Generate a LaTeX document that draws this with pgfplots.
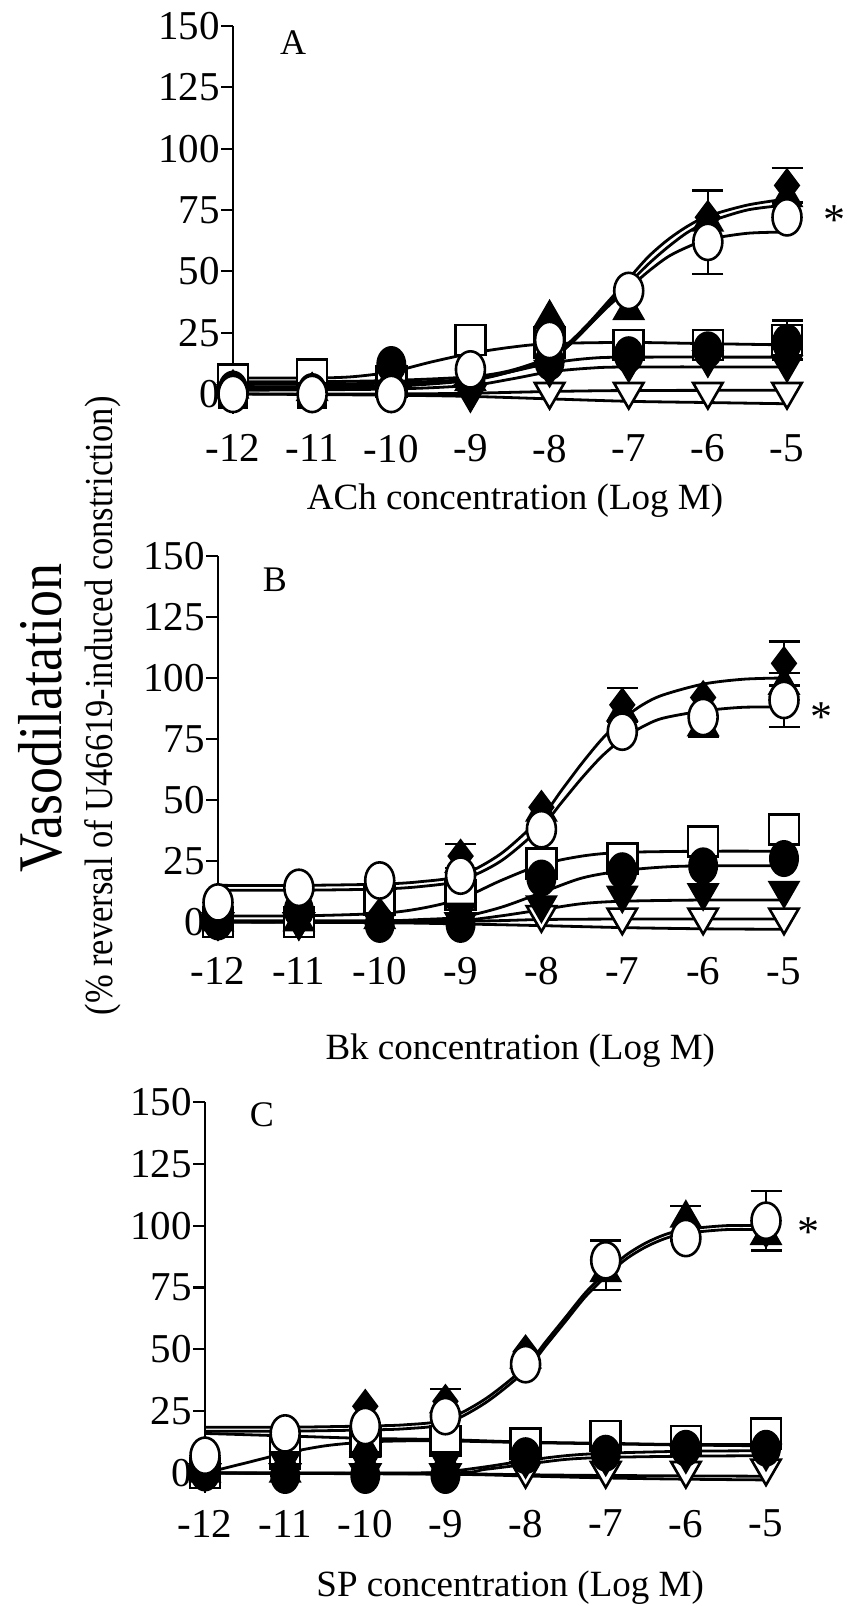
\documentclass[border=0pt]{standalone}
\usepackage{fontspec}
\setmainfont{Liberation Serif}
\usepackage{pgfplots}
\pgfplotsset{compat=1.18}

\pgfplotsset{
  panel/.style={
    scale only axis, clip=false, axis on top,
    xmin=-12, xmax=-5, ymin=-8, ymax=150,
    axis x line=bottom, axis y line=left,
    axis line style={-, line width=2.6pt},
    x axis line style={draw=none},
    xtick={-12,-11,-10,-9,-8,-7,-6,-5},
    xticklabels={-12,-11,-10,-9,-8,-7,-6,-5},
    ytick={0,25,50,75,100,125,150},
    yticklabels={0,25,50,75,100,125,150},
    xtick style={draw=none},
    ytick style={line width=2.2pt, black},
    tick align=outside,
    major tick length=12pt,
    tick label style={font=\fontsize{41}{41}\selectfont},
    yticklabel style={inner sep=1pt},
    xticklabel style={inner sep=0pt, anchor=north},
    xlabel style={font=\fontsize{37}{37}\selectfont, anchor=base},
  },
  fit/.style={no marks, smooth, line width=2.8pt, black},
  eb/.style={only marks, mark=none, error bars/.cd, y dir=both, y explicit,
    error bar style={draw=black, line width=2.4pt},
    error mark options={rotate=90, mark size=15.5pt, line width=2.4pt, draw=black}},
  mD/.style={only marks, mark=diamond*, mark size=16pt, mark options={draw=black, fill=black, line width=2pt}},
  mT/.style={only marks, mark=triangle*, mark size=17pt, mark options={draw=black, fill=black, line width=2pt}},
  mO/.style={only marks, mark=*, mark size=14.5pt, mark options={draw=black, fill=white, line width=2.6pt, yscale=1.25}},
  mS/.style={only marks, mark=square*, mark size=15pt, mark options={draw=black, fill=white, line width=2.6pt}},
  mC/.style={only marks, mark=*, mark size=14pt, mark options={draw=black, fill=black, line width=2pt, yscale=1.25}},
  mV/.style={only marks, mark=triangle*, mark size=17pt, mark options={draw=black, fill=black, line width=2pt, rotate=180}},
  mW/.style={only marks, mark=triangle*, mark size=17pt, mark options={draw=black, fill=white, line width=2.6pt, rotate=180}},
  mQ/.style={only marks, mark=square*, mark size=14pt, mark options={draw=black, fill=black, line width=2pt}},
}

\begin{document}
\begin{tikzpicture}
\useasboundingbox (0pt,0pt) rectangle (852pt,1606pt);

% ---------------- Panel A ----------------
\begin{axis}[panel, at={(233pt,1192.4pt)}, anchor=south west,
  width=554pt, height=387.6pt,
  xticklabel style={yshift=-9pt},
  xlabel={ACh concentration (Log M)},
  xlabel style={at={(axis description cs:0.509,0)}, yshift=-96pt}]
\addplot[fit] coordinates {(-12,5) (-11,5) (-10,5.5) (-9,7) (-8.5,9.5) (-8,15) (-7.75,21) (-7.5,29) (-7.25,38) (-7,47) (-6.75,56) (-6.5,63) (-6.25,68.5) (-6,72.5) (-5.5,77) (-5,79.5)};
\addplot[fit] coordinates {(-12,4) (-11,4) (-10,4.5) (-9,6) (-8.5,9) (-8,14) (-7.75,20) (-7.5,28) (-7.25,37) (-7,45) (-6.75,53) (-6.5,60) (-6.25,66) (-6,70) (-5.5,75) (-5,77)};
\addplot[fit] coordinates {(-12,2) (-11,2) (-10,3) (-9,5.5) (-8.5,9) (-8,14) (-7.75,20) (-7.5,28) (-7.25,36) (-7,43) (-6.75,50) (-6.5,56) (-6.25,60) (-6,63) (-5.5,65.5) (-5,66)};
\addplot[fit] coordinates {(-12,6.5) (-11,6.5) (-10.5,7) (-10,9) (-9.5,13) (-9,16.5) (-8.5,19) (-8,20.5) (-7,21) (-6,20.5) (-5,20)};
\addplot[fit] coordinates {(-12,3) (-11,3) (-10,3.5) (-9.5,4.5) (-9,6) (-8.5,9) (-8,12.5) (-7.5,14.5) (-7,15) (-5,15)};
\addplot[fit] coordinates {(-12,1.5) (-10,2) (-9,3.5) (-8.5,6) (-8,9) (-7.5,10.5) (-7,11) (-5,11)};
\addplot[fit] coordinates {(-12,0) (-10,0) (-9,0.3) (-8,1) (-7,1.4) (-5,1.5)};
\addplot[fit] coordinates {(-12,0) (-10,-0.5) (-9,-1) (-8,-2) (-7,-3) (-6,-3.5) (-5,-4)};
% error bars
\addplot[eb] coordinates {(-5,85) +- (0,7)};
\addplot[eb] coordinates {(-6,62) += (0,21) -= (0,13)};
\addplot[eb] coordinates {(-5,22) +- (0,8)};
% data
\addplot[mQ] coordinates {(-12,0) (-11,0)};
\addplot[mS] coordinates {(-12,6) (-11,8) (-10,5) (-9,22) (-8,21) (-7,20) (-6,20) (-5,22)};
\addplot[mW] coordinates {(-12,0) (-11,0) (-10,0) (-9,0) (-8,1) (-7,1) (-6,1) (-5,1)};
\addplot[mC] coordinates {(-12,2) (-11,1) (-10,12) (-9,5) (-8,13) (-7,16) (-6,18) (-5,21)};
\addplot[mV] coordinates {(-12,1) (-11,1) (-10,2) (-9,1) (-8,10) (-7,12) (-6,14) (-5,12)};
\addplot[mT] coordinates {(-12,2) (-11,1) (-10,3) (-9,5) (-8,31) (-7,34) (-6,70) (-5,80)};
\addplot[mD] coordinates {(-12,3) (-11,2) (-10,5) (-9,6) (-8,28) (-7,40) (-6,72) (-5,85)};
\addplot[mO] coordinates {(-12,0) (-11,0) (-10,0) (-9,10) (-8,22) (-7,42) (-6,62) (-5,72)};
\end{axis}

% ---------------- Panel B ----------------
\begin{axis}[panel, at={(218pt,664.5pt)}, anchor=south west,
  width=566pt, height=385.5pt,
  xticklabel style={yshift=-4pt},
  xlabel={Bk concentration (Log M)},
  xlabel style={at={(axis description cs:0.534,0)}, yshift=-118pt}]
\addplot[fit] coordinates {(-12,15) (-11,15) (-10,15.5) (-9.5,16.5) (-9,19) (-8.5,28) (-8,43) (-7.75,54) (-7.5,65) (-7.25,75) (-7,83) (-6.75,89) (-6.5,93) (-6,97.5) (-5.5,99.5) (-5,100)};
\addplot[fit] coordinates {(-12,13) (-11,13) (-10,13.5) (-9.5,14.5) (-9,17) (-8.5,25) (-8,39) (-7.75,49) (-7.5,59) (-7.25,68) (-7,75) (-6.75,80) (-6.5,83.5) (-6,86.5) (-5.5,88) (-5,88)};
\addplot[fit] coordinates {(-12,2.5) (-11,2.5) (-10,3.5) (-9.5,5.5) (-9,9.5) (-8.5,17) (-8,23.5) (-7.5,27) (-7,28.5) (-6,29) (-5,29)};
\addplot[fit] coordinates {(-12,0.5) (-10,0.5) (-9.5,1) (-9,2) (-8.5,6) (-8,12) (-7.5,18) (-7,21) (-6.5,22.5) (-6,23) (-5,23)};
\addplot[fit] coordinates {(-12,0) (-9.5,0) (-9,0.5) (-8.5,2.5) (-8,5) (-7.5,7.5) (-7,8.5) (-6,9) (-5,9)};
\addplot[fit] coordinates {(-12,0) (-9,0.3) (-8,1) (-7,1.2) (-5,1.2)};
\addplot[fit] coordinates {(-12,0) (-10,-0.3) (-9,-0.8) (-8,-1.5) (-7,-2.3) (-6,-2.8) (-5,-3)};
\addplot[eb] coordinates {(-9,27) +- (0,5)};
\addplot[eb] coordinates {(-7,89) +- (0,7)};
\addplot[eb] coordinates {(-5,106) +- (0,9)};
\addplot[eb] coordinates {(-5,91) +- (0,11)};
\addplot[eb] coordinates {(-6,80) +- (0,4)};
\addplot[mQ] coordinates {(-12,0) (-11,0)};
\addplot[mS] coordinates {(-12,0) (-11,0) (-10,9) (-9,11) (-8,24) (-7,26) (-6,33) (-5,38)};
\addplot[mW] coordinates {(-12,0) (-11,0) (-10,0) (-9,0) (-8,3) (-7,2) (-6,2) (-5,2)};
\addplot[mC] coordinates {(-12,0) (-11,5) (-10,-1) (-9,-1) (-8,18) (-7,21) (-6,23) (-5,26)};
\addplot[mV] coordinates {(-12,0) (-11,0) (-10,0) (-9,4) (-8,7) (-7,11) (-6,12) (-5,13)};
\addplot[mT] coordinates {(-12,0) (-11,0) (-10,1) (-9,24) (-8,45) (-7,86) (-6,80) (-5,97)};
\addplot[mD] coordinates {(-12,0) (-11,1) (-10,3) (-9,27) (-8,47) (-7,89) (-6,92) (-5,106)};
\addplot[mO] coordinates {(-12,8) (-11,14) (-10,17) (-9,19) (-8,38) (-7,78) (-6,84) (-5,91)};
\end{axis}

% ---------------- Panel C ----------------
\begin{axis}[panel, at={(205pt,113.2pt)}, anchor=south west,
  width=561pt, height=390.8pt,
  xticklabel style={yshift=-5pt},
  xlabel={SP concentration (Log M)},
  xlabel style={at={(axis description cs:0.544,0)}, yshift=-104pt}]
\addplot[fit] coordinates {(-12,18.5) (-11,18.5) (-10,19) (-9.5,19.5) (-9,21.5) (-8.5,30) (-8,43) (-7.75,53) (-7.5,63) (-7.25,73) (-7,81) (-6.75,88) (-6.5,93) (-6.25,96.5) (-6,98.5) (-5.5,100) (-5,100)};
\addplot[fit] coordinates {(-12,16.9) (-11,16.9) (-10,17.4) (-9.5,17.9) (-9,19.9) (-8.5,28.4) (-8,41.4) (-7.75,51.4) (-7.5,61.4) (-7.25,71.4) (-7,79.4) (-6.75,86.4) (-6.5,91.4) (-6.25,94.9) (-6,96.9) (-5.5,98.4) (-5,98.4)};
\addplot[fit] coordinates {(-12,16) (-11,15) (-10,14) (-9,13.5) (-8,12.5) (-7,12) (-6,11.5) (-5,11.5)};
\addplot[fit] coordinates {(-12,0) (-11.5,4) (-11,8) (-10.5,11) (-10,12.5) (-9.5,13) (-9,13) (-8,12.3) (-7,11.8) (-6,11.3) (-5,11)};
\addplot[fit] coordinates {(-12,0) (-9.5,0) (-9,0.5) (-8.5,2.5) (-8,5) (-7.5,7) (-7,8) (-6,8.8) (-5,9)};
\addplot[fit] coordinates {(-12,0) (-9,0) (-8.5,1.5) (-8,3.5) (-7.5,5.5) (-7,6.3) (-6,6.8) (-5,7)};
\addplot[fit] coordinates {(-12,0) (-9,-0.3) (-8,-0.7) (-7,-1) (-5,-1.3)};
\addplot[fit] coordinates {(-12,0) (-9,-0.5) (-8,-1.2) (-7,-2) (-6,-2.5) (-5,-2.8)};
\addplot[eb] coordinates {(-9,29) +- (0,5)};
\addplot[eb] coordinates {(-7,84) +- (0,10)};
\addplot[eb] coordinates {(-6,101) +- (0,7)};
\addplot[eb] coordinates {(-5,102) +- (0,12)};
\addplot[mQ] coordinates {(-12,0)};
\addplot[mS] coordinates {(-12,0) (-11,8) (-10,13) (-9,13) (-8,12) (-7,15) (-6,13) (-5,16)};
\addplot[mW] coordinates {(-12,0) (-11,0) (-10,0) (-9,0) (-8,1) (-7,1) (-6,1) (-5,2)};
\addplot[mC] coordinates {(-12,0) (-11,-1) (-10,-1) (-9,-1) (-8,7) (-7,8) (-6,10) (-5,10)};
\addplot[mV] coordinates {(-12,0) (-11,5) (-10,5) (-9,5) (-8,5) (-7,6) (-6,7) (-5,8)};
\addplot[mT] coordinates {(-12,0) (-11,0) (-10,10) (-9,28) (-8,46) (-7,81) (-6,103) (-5,96)};
\addplot[mD] coordinates {(-12,0) (-11,0) (-10,27) (-9,29) (-8,49) (-7,84) (-6,101) (-5,98)};
\addplot[mO] coordinates {(-12,7) (-11,16) (-10,19) (-9,23) (-8,44) (-7,86) (-6,95) (-5,102)};
\end{axis}

% panel letters, asterisks, y label
\node[font=\fontsize{36}{36}\selectfont] at (293pt,1563pt) {A};
\node[font=\fontsize{36}{36}\selectfont] at (275pt,1026pt) {B};
\node[font=\fontsize{36}{36}\selectfont] at (262pt,491pt) {C};
\node[font=\fontsize{44}{44}\selectfont] at (834pt,1386pt) {*};
\node[font=\fontsize{44}{44}\selectfont] at (821pt,889pt) {*};
\node[font=\fontsize{44}{44}\selectfont] at (808pt,374pt) {*};
\node[rotate=90, yscale=1.15, font=\fontsize{54}{54}\selectfont] at (40pt,888pt) {Vasodilatation};
\node[rotate=90, yscale=1.15, font=\fontsize{34.5}{34.5}\selectfont] at (103pt,900pt) {(\% reversal of U46619-induced constriction)};
\end{tikzpicture}
\end{document}
